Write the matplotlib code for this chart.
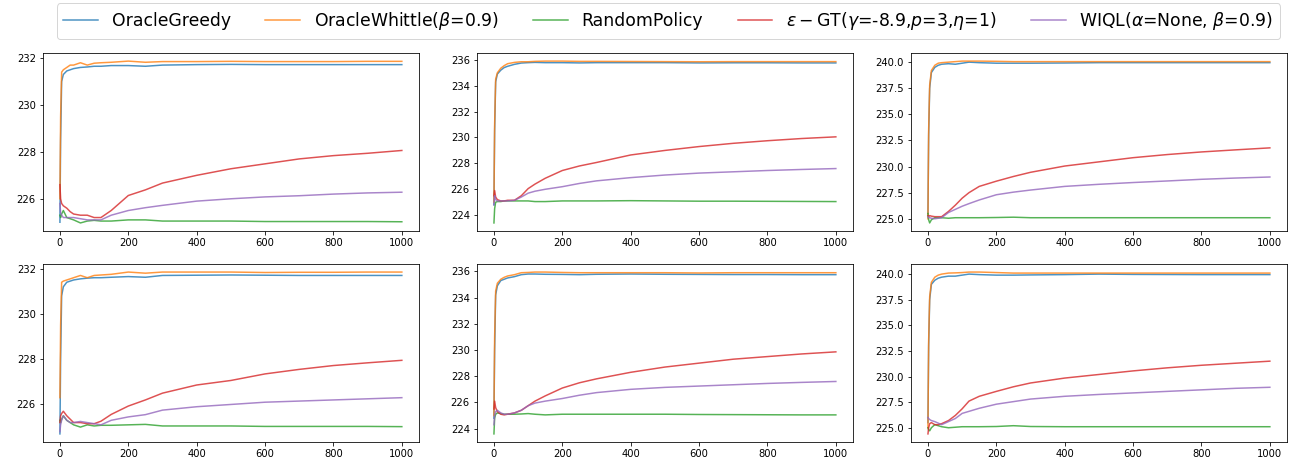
import matplotlib
matplotlib.use("Agg")
import matplotlib.pyplot as plt
from matplotlib.ticker import MultipleLocator

steps = [0, 2, 5, 10, 20, 30, 40, 60, 80, 100, 120, 150, 200, 250, 300, 400, 500, 600, 700, 800, 900, 1000]

labels = ['OracleGreedy', r'OracleWhittle($\beta$=0.9)', 'RandomPolicy',
          r'$\epsilon-$GT($\gamma$=-8.9,$p$=3,$\eta$=1)', r'WIQL($\alpha$=None, $\beta$=0.9)']

# y tick step of each panel
ystep = [2, 2, 2.5, 2, 2, 2.5]

# one list per panel (row major: top-left, top-mid, top-right, bottom-left, ...)
greedy = [
    [225.0, 228.5, 231.0, 231.3, 231.45, 231.5, 231.55, 231.6, 231.62, 231.65, 231.65, 231.68, 231.68, 231.65, 231.7, 231.72, 231.73, 231.72, 231.72, 231.72, 231.72, 231.72],
    [224.8, 230.5, 234.3, 234.9, 235.2, 235.4, 235.5, 235.65, 235.75, 235.78, 235.8, 235.78, 235.78, 235.76, 235.78, 235.78, 235.78, 235.76, 235.77, 235.77, 235.76, 235.76],
    [225.5, 233.0, 237.5, 239.0, 239.5, 239.7, 239.8, 239.85, 239.8, 239.9, 240.0, 239.95, 239.9, 239.9, 239.9, 239.92, 239.95, 239.95, 239.95, 239.95, 239.95, 239.95],
    [224.7, 228.0, 230.8, 231.2, 231.4, 231.45, 231.5, 231.55, 231.58, 231.6, 231.6, 231.62, 231.65, 231.62, 231.7, 231.71, 231.72, 231.71, 231.7, 231.7, 231.7, 231.7],
    [224.8, 230.0, 234.2, 234.9, 235.3, 235.4, 235.5, 235.6, 235.75, 235.8, 235.8, 235.78, 235.77, 235.75, 235.78, 235.8, 235.78, 235.77, 235.76, 235.76, 235.75, 235.75],
    [225.5, 233.0, 237.5, 239.0, 239.4, 239.6, 239.7, 239.8, 239.8, 239.9, 240.0, 239.95, 239.9, 239.9, 239.92, 239.95, 240.0, 239.97, 239.96, 239.95, 239.95, 239.95],
]
whittle = [
    [226.0, 229.5, 231.4, 231.5, 231.6, 231.7, 231.7, 231.8, 231.7, 231.78, 231.8, 231.82, 231.87, 231.82, 231.85, 231.85, 231.86, 231.85, 231.85, 231.85, 231.86, 231.86],
    [225.0, 231.0, 234.5, 235.0, 235.35, 235.55, 235.7, 235.8, 235.85, 235.85, 235.88, 235.9, 235.9, 235.88, 235.88, 235.87, 235.86, 235.85, 235.86, 235.86, 235.86, 235.86],
    [225.0, 233.5, 237.8, 239.2, 239.7, 239.9, 239.95, 240.0, 240.05, 240.1, 240.1, 240.1, 240.08, 240.05, 240.05, 240.05, 240.05, 240.05, 240.05, 240.05, 240.05, 240.05],
    [226.3, 229.5, 231.4, 231.45, 231.5, 231.55, 231.6, 231.7, 231.6, 231.7, 231.72, 231.75, 231.85, 231.8, 231.85, 231.85, 231.85, 231.83, 231.84, 231.84, 231.85, 231.85],
    [225.0, 231.0, 234.5, 235.1, 235.4, 235.55, 235.65, 235.75, 235.9, 235.92, 235.95, 235.95, 235.92, 235.9, 235.9, 235.9, 235.9, 235.88, 235.9, 235.9, 235.9, 235.9],
    [225.0, 233.5, 237.8, 239.2, 239.7, 239.9, 240.0, 240.1, 240.12, 240.15, 240.2, 240.2, 240.15, 240.1, 240.1, 240.1, 240.1, 240.1, 240.1, 240.1, 240.1, 240.1],
]
random_pol = [
    [225.3, 225.2, 225.35, 225.5, 225.2, 225.15, 225.1, 224.97, 225.05, 225.08, 225.05, 225.05, 225.1, 225.1, 225.05, 225.05, 225.05, 225.03, 225.03, 225.03, 225.03, 225.02],
    [223.4, 224.5, 225.0, 225.05, 225.05, 225.1, 225.1, 225.1, 225.1, 225.1, 225.05, 225.05, 225.1, 225.1, 225.1, 225.12, 225.1, 225.08, 225.08, 225.07, 225.06, 225.05],
    [225.5, 224.9, 224.6, 224.9, 225.1, 225.1, 225.1, 225.05, 225.1, 225.1, 225.1, 225.1, 225.12, 225.15, 225.1, 225.1, 225.1, 225.1, 225.1, 225.1, 225.1, 225.1],
    [225.3, 225.2, 225.35, 225.5, 225.3, 225.2, 225.1, 225.0, 225.1, 225.05, 225.08, 225.08, 225.1, 225.12, 225.05, 225.05, 225.05, 225.03, 225.03, 225.03, 225.03, 225.02],
    [223.6, 224.8, 225.1, 225.2, 225.15, 225.1, 225.1, 225.1, 225.12, 225.15, 225.1, 225.05, 225.1, 225.1, 225.1, 225.1, 225.1, 225.08, 225.07, 225.06, 225.05, 225.05],
    [225.0, 224.8, 224.7, 225.0, 225.3, 225.2, 225.1, 225.0, 225.05, 225.1, 225.1, 225.1, 225.12, 225.2, 225.12, 225.1, 225.1, 225.1, 225.1, 225.1, 225.1, 225.1],
]
egt = [
    [226.6, 226.0, 225.8, 225.7, 225.6, 225.45, 225.35, 225.3, 225.3, 225.2, 225.2, 225.5, 226.14, 226.38, 226.67, 227.0, 227.28, 227.49, 227.7, 227.84, 227.94, 228.06],
    [225.5, 225.9, 225.4, 225.2, 225.1, 225.1, 225.15, 225.15, 225.5, 226.05, 226.4, 226.85, 227.45, 227.8, 228.07, 228.65, 229.0, 229.3, 229.55, 229.75, 229.92, 230.05],
    [225.3, 225.2, 225.3, 225.25, 225.2, 225.2, 225.2, 225.7, 226.3, 226.97, 227.5, 228.1, 228.6, 229.05, 229.45, 230.05, 230.45, 230.85, 231.15, 231.4, 231.6, 231.79],
    [225.2, 225.5, 225.6, 225.7, 225.5, 225.35, 225.2, 225.2, 225.15, 225.15, 225.26, 225.56, 225.93, 226.2, 226.5, 226.86, 227.06, 227.35, 227.55, 227.72, 227.84, 227.95],
    [225.5, 226.1, 225.6, 225.3, 225.1, 225.05, 225.1, 225.2, 225.4, 225.75, 226.1, 226.5, 227.1, 227.5, 227.8, 228.3, 228.7, 229.0, 229.3, 229.5, 229.7, 229.86],
    [224.4, 225.0, 225.4, 225.5, 225.3, 225.3, 225.4, 225.7, 226.2, 226.85, 227.6, 228.07, 228.55, 229.0, 229.37, 229.85, 230.2, 230.55, 230.85, 231.1, 231.3, 231.5],
]
wiql = [
    [225.8, 225.4, 225.3, 225.2, 225.2, 225.2, 225.2, 225.15, 225.1, 225.1, 225.1, 225.3, 225.5, 225.62, 225.72, 225.9, 226.0, 226.08, 226.13, 226.2, 226.25, 226.28],
    [224.8, 225.5, 225.2, 225.1, 225.1, 225.1, 225.1, 225.15, 225.4, 225.7, 225.85, 226.0, 226.2, 226.45, 226.65, 226.9, 227.1, 227.25, 227.35, 227.45, 227.53, 227.6],
    [225.2, 225.1, 225.1, 225.05, 225.0, 225.05, 225.1, 225.6, 225.9, 226.2, 226.45, 226.8, 227.3, 227.55, 227.75, 228.1, 228.3, 228.47, 228.62, 228.78, 228.9, 229.0],
    [224.8, 225.1, 225.3, 225.5, 225.3, 225.2, 225.2, 225.25, 225.2, 225.15, 225.1, 225.3, 225.45, 225.55, 225.75, 225.9, 226.0, 226.1, 226.15, 226.2, 226.25, 226.3],
    [224.3, 225.0, 225.3, 225.4, 225.2, 225.1, 225.1, 225.2, 225.4, 225.75, 225.95, 226.1, 226.3, 226.55, 226.75, 227.0, 227.15, 227.25, 227.35, 227.45, 227.53, 227.6],
    [226.0, 225.9, 225.8, 225.7, 225.6, 225.45, 225.3, 225.6, 225.9, 226.4, 226.6, 226.9, 227.3, 227.55, 227.8, 228.07, 228.25, 228.4, 228.55, 228.7, 228.85, 228.95],
]

colors = ['#1f77b4', '#ff7f0e', '#2ca02c', '#d62728', '#9467bd']

fig, axs = plt.subplots(2, 3, figsize=(1298 / 72, 463 / 72), dpi=72)
plt.subplots_adjust(left=0.033, right=0.9915, top=0.8855, bottom=0.0454, wspace=0.154, hspace=0.185)

for i, ax in enumerate(axs.flat):
    series = [greedy[i], whittle[i], random_pol[i], egt[i], wiql[i]]
    for j in range(5):
        ax.plot(steps, series[j], color=colors[j], alpha=0.8, lw=1.5, label=labels[j])
    ax.set_xticks([0, 200, 400, 600, 800, 1000])
    ax.yaxis.set_major_locator(MultipleLocator(ystep[i]))
    if ystep[i] == 2.5:
        ax.yaxis.set_major_formatter('{x:.1f}')

handles, labs = axs[0, 0].get_legend_handles_labels()
fig.legend(handles, labs, loc='upper center', ncol=5, fontsize='xx-large',
           bbox_to_anchor=(0.515, 1.0), borderaxespad=0.2)

plt.savefig("out.png", dpi=72)
